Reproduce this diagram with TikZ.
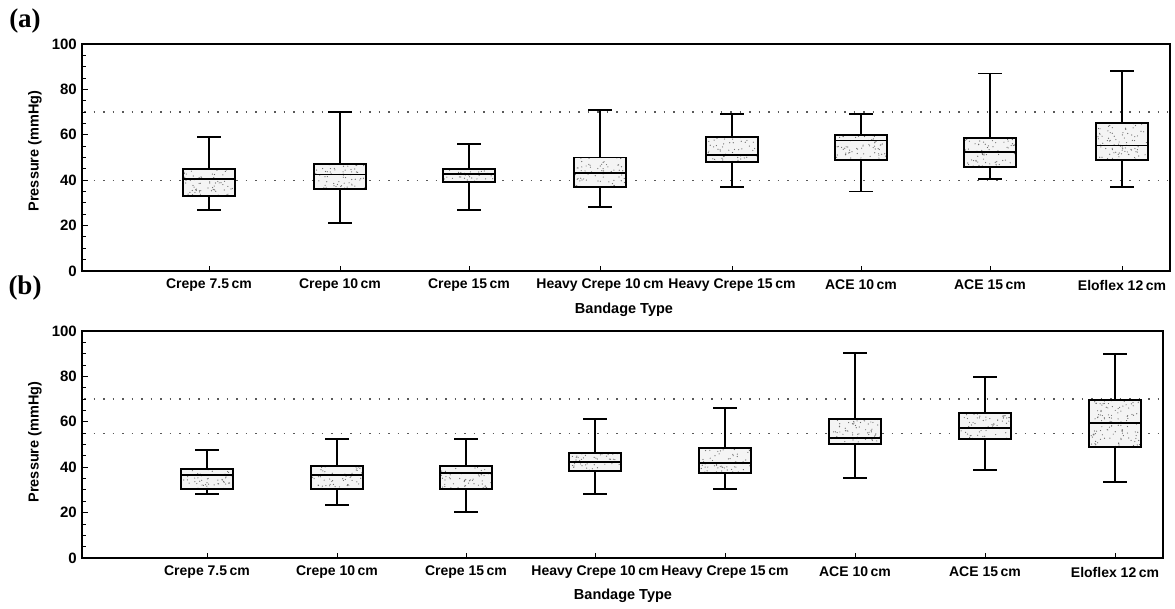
\documentclass[tikz,border=0pt]{standalone}
\usepackage{fontspec}
\setmainfont{Liberation Sans}
\newfontfamily\serifbold{Liberation Serif}
\tikzset{
 boxline/.style={line width=1.9pt},
 whisk/.style={line width=1.9pt},
 frameline/.style={line width=1.1pt},
 tickline/.style={line width=0.9pt},
 refline/.style={black!65, line width=1.2pt, dash pattern=on 1.5pt off 8pt},
 boxfill/.style={fill=gray!9},
 dotfill/.style={fill=black!60},
 ticklab/.style={anchor=east, font=\bfseries\fontsize{15}{15}\selectfont, inner sep=0pt},
 catlab/.style={font=\bfseries\fontsize{14}{14}\selectfont, inner sep=0pt},
 axlab/.style={font=\bfseries\fontsize{14.5}{14.5}\selectfont, inner sep=0pt},
 panlab/.style={font=\serifbold\bfseries\fontsize{27}{27}\selectfont, inner sep=0pt},
}
% box plot: x, min, q1, median, q3, max
\newcommand{\bxplot}[6]{%
  \fill[boxfill] (#1-26,#3) rectangle (#1+26,#5);
  \begin{scope}
    \clip (#1-25,#3) rectangle (#1+25,#5);
    \pgfmathtruncatemacro\ndots{(#5-#3)*2.27*52/22}
    \foreach \k in {1,...,\ndots}{%
      \pgfmathsetmacro\dx{rnd*50-25}%
      \pgfmathsetmacro\dy{#3+rnd*(#5-#3)}%
      \fill[dotfill] (#1+\dx,\dy) circle[radius=0.6pt];
    }
  \end{scope}
  \draw[whisk] (#1,#5) -- (#1,#6);
  \draw[whisk] (#1-12,#6) -- (#1+12,#6);
  \draw[whisk] (#1,#3) -- (#1,#2);
  \draw[whisk] (#1-12,#2) -- (#1+12,#2);
  \draw[boxline] (#1-26,#3) rectangle (#1+26,#5);
  \draw[boxline] (#1-26,#4) -- (#1+26,#4);
}
\newcommand{\cmw}{\hspace{0.18em}}
\begin{document}
\begin{tikzpicture}[x=1pt,y=1pt]
\pgfmathsetseed{11}
\useasboundingbox (0,0) rectangle (1175,608);

% ---------- panel (a) ----------
\node[panlab] (pa) at (25,587) {(a)};
\begin{scope}[shift={(0pt,337pt)}, y=2.27pt]
  \draw[refline] (84,70) -- (1168,70);
  \draw[refline] (84,40) -- (1168,40);
  \foreach \v in {0,5,...,100}{\draw[tickline] (82,\v) -- ++(3.5pt,0);}
  \foreach \v in {0,20,...,100}{\draw[tickline] (82,\v) -- ++(5.5pt,0);
    \node[ticklab] (a-y\v) at (77,\v) {\v};}
  \foreach \x in {209,340,469,600,732,861,990,1122}{\draw[tickline] (\x,0) -- ++(0,5pt);}
  \bxplot{209}{27}{33}{40.5}{45}{59}
  \bxplot{340}{21}{36}{42.5}{47}{70}
  \bxplot{469}{27}{39.3}{42.8}{45}{56}
  \bxplot{600}{28}{37}{43.3}{50}{71}
  \bxplot{732}{37}{48}{51}{59}{69}
  \bxplot{861}{35}{49}{57.5}{60}{69}
  \bxplot{990}{40.5}{46}{52.5}{58.7}{87}
  \bxplot{1122}{37}{49}{55.3}{65}{88}
  \draw[frameline] (82,0) rectangle (1170,100);
\end{scope}
\node[axlab, rotate=90] (a-ylab) at (35,457) {Pressure (mmHg)};
\node[catlab] (a-c1) at (209,323) {Crepe 7.5\cmw cm};
\node[catlab] (a-c2) at (340,323) {Crepe 10\cmw cm};
\node[catlab] (a-c3) at (469,323) {Crepe 15\cmw cm};
\node[catlab] (a-c4) at (600,323) {Heavy Crepe 10\cmw cm};
\node[catlab] (a-c5) at (732,323) {Heavy Crepe 15\cmw cm};
\node[catlab] (a-c6) at (861,323) {ACE 10\cmw cm};
\node[catlab] (a-c7) at (990,323) {ACE 15\cmw cm};
\node[catlab] (a-c8) at (1122,323) {Eloflex 12\cmw cm};
\node[axlab] (a-xlab) at (624,298) {Bandage Type};

% ---------- panel (b) ----------
\node[panlab] (pb) at (25,320) {(b)};
\begin{scope}[shift={(0pt,50pt)}, y=2.27pt]
  \draw[refline] (84,70) -- (1161,70);
  \draw[refline] (84,55) -- (1161,55);
  \foreach \v in {0,5,...,100}{\draw[tickline] (82,\v) -- ++(3.5pt,0);}
  \foreach \v in {0,20,...,100}{\draw[tickline] (82,\v) -- ++(5.5pt,0);
    \node[ticklab] (b-y\v) at (77,\v) {\v};}
  \foreach \x in {207,337,466,595,725,855,985,1115}{\draw[tickline] (\x,0) -- ++(0,5pt);}
  \bxplot{207}{28.3}{30.2}{36.4}{39.2}{47.6}
  \bxplot{337}{23.3}{30.2}{36.4}{40.5}{52.4}
  \bxplot{466}{20.4}{30.2}{37.4}{40.5}{52.4}
  \bxplot{595}{28.3}{38.5}{42.3}{46.1}{61.2}
  \bxplot{725}{30.2}{37.3}{41.8}{48.3}{66.2}
  \bxplot{855}{35.1}{50.2}{53}{61.1}{90.2}
  \bxplot{985}{38.9}{52.3}{57.4}{63.7}{79.7}
  \bxplot{1115}{33.6}{49}{59.3}{69.7}{90}
  \draw[frameline] (82,0) rectangle (1163,100);
\end{scope}
\node[axlab, rotate=90] (b-ylab) at (35,166) {Pressure (mmHg)};
\node[catlab] (b-c1) at (207,36) {Crepe 7.5\cmw cm};
\node[catlab] (b-c2) at (337,36) {Crepe 10\cmw cm};
\node[catlab] (b-c3) at (466,36) {Crepe 15\cmw cm};
\node[catlab] (b-c4) at (595,36) {Heavy Crepe 10\cmw cm};
\node[catlab] (b-c5) at (725,36) {Heavy Crepe 15\cmw cm};
\node[catlab] (b-c6) at (855,36) {ACE 10\cmw cm};
\node[catlab] (b-c7) at (985,36) {ACE 15\cmw cm};
\node[catlab] (b-c8) at (1115,36) {Eloflex 12\cmw cm};
\node[axlab] (b-xlab) at (623,12) {Bandage Type};
\end{tikzpicture}
\end{document}
